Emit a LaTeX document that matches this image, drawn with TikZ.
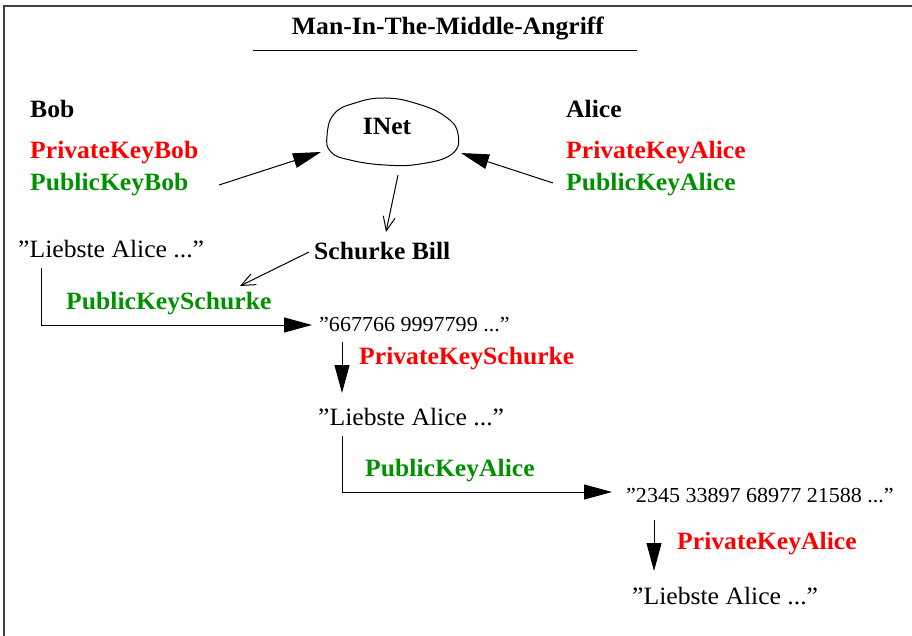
\documentclass[tikz,border=0pt]{standalone}
\usepackage{fontspec}
\setmainfont{Liberation Serif}[FakeStretch=1.03]
\usetikzlibrary{arrows.meta}
\definecolor{keyred}{RGB}{255,0,0}
\definecolor{keygreen}{RGB}{0,145,0}
\begin{document}
\begin{tikzpicture}[x=1pt,y=-1pt,
  txt/.style={anchor=base west,inner sep=0pt,font=\fontsize{24.9}{30}\selectfont},
  boldtxt/.style={anchor=base west,inner sep=0pt,font=\fontsize{24.9}{30}\selectfont\bfseries},
  privkey/.style={boldtxt,text=keyred},
  pubkey/.style={boldtxt,text=keygreen},
  ciphertxt/.style={anchor=base west,inner sep=0pt,font=\fontsize{21.4}{26}\selectfont},
  link/.style={line width=1pt},
  solidhead/.style={link,-{Triangle[length=28pt,width=15pt]}},
  openhead/.style={link,-{Straight Barb[length=14pt,width=12pt,line width=1pt]}}]

\useasboundingbox (0,0) rectangle (912,636);
\fill[white] (0,0) rectangle (912,636);

% frame
\draw[line width=1.6pt, black!75] (4,636) -- (4,6) -- (912,6);

% heading
\node[boldtxt,anchor=base] (title) at (448,35) {Man-In-The-Middle-Angriff};
\coordinate (ruleL) at (253,51);
\coordinate (ruleR) at (637,51);
\draw[line width=1pt] (ruleL) -- (ruleR);

% Bob
\node[boldtxt] (bob) at (30,118) {Bob};
\node[privkey] (privbob) at (30,159) {PrivateKeyBob};
\node[pubkey] (pubbob) at (30,191) {PublicKeyBob};

% Alice
\node[boldtxt] (alice) at (566,118) {Alice};
\node[privkey] (privalice) at (566,159) {PrivateKeyAlice};
\node[pubkey] (pubalice) at (566,191) {PublicKeyAlice};

% internet cloud
\draw[link] plot[smooth cycle, tension=0.75] coordinates {
  (327,136) (334,114) (355,103) (385,98) (418,104) (446,117) (458,134)
  (452,154) (420,164) (385,165) (350,160) (331,152)};
\node[boldtxt,anchor=base] (inet) at (387,135) {INet};

% Bill
\node[boldtxt] (bill) at (314,259) {Schurke Bill};

% message path
\node[txt] (plain1) at (18,258) {”Liebste Alice ...”};
\node[pubkey] (keyschurke) at (66,309) {PublicKeySchurke};
\node[ciphertxt] (cipher1) at (319,331) {”667766 9997799 ...”};
\node[privkey] (privschurke) at (359,364) {PrivateKeySchurke};
\node[txt] (plain2) at (318,425) {”Liebste Alice ...”};
\node[pubkey] (pubalice2) at (365,476) {PublicKeyAlice};
\node[ciphertxt] (cipher2) at (626,502) {”2345 33897 68977 21588 ...”};
\node[privkey] (privalice2) at (677,549) {PrivateKeyAlice};
\node[txt] (plain3) at (632,604) {”Liebste Alice ...”};

% connector end points
\coordinate (bobOut) at (219,185);
\coordinate (inetL) at (321,152);
\coordinate (aliceOut) at (553,183);
\coordinate (inetR) at (461,153);
\coordinate (inetB) at (398,175);
\coordinate (billT) at (386,232);
\coordinate (billL) at (309,252);
\coordinate (keyschurkeT) at (240,286);
\coordinate (p1out) at (41,268);
\coordinate (c1in) at (312,325);
\coordinate (c1out) at (342,342);
\coordinate (p2in) at (342,393);
\coordinate (p2out) at (342,436);
\coordinate (c2in) at (612,492);
\coordinate (c2out) at (654,520);
\coordinate (p3in) at (654,571);

% connectors
\draw[solidhead] (bobOut) -- (inetL);
\draw[solidhead] (aliceOut) -- (inetR);
\draw[openhead] (inetB) -- (billT);
\draw[openhead] (billL) -- (keyschurkeT);
\draw[solidhead] (p1out) |- (c1in);
\draw[solidhead] (c1out) -- (p2in);
\draw[solidhead] (p2out) |- (c2in);
\draw[solidhead] (c2out) -- (p3in);
\end{tikzpicture}
\end{document}
